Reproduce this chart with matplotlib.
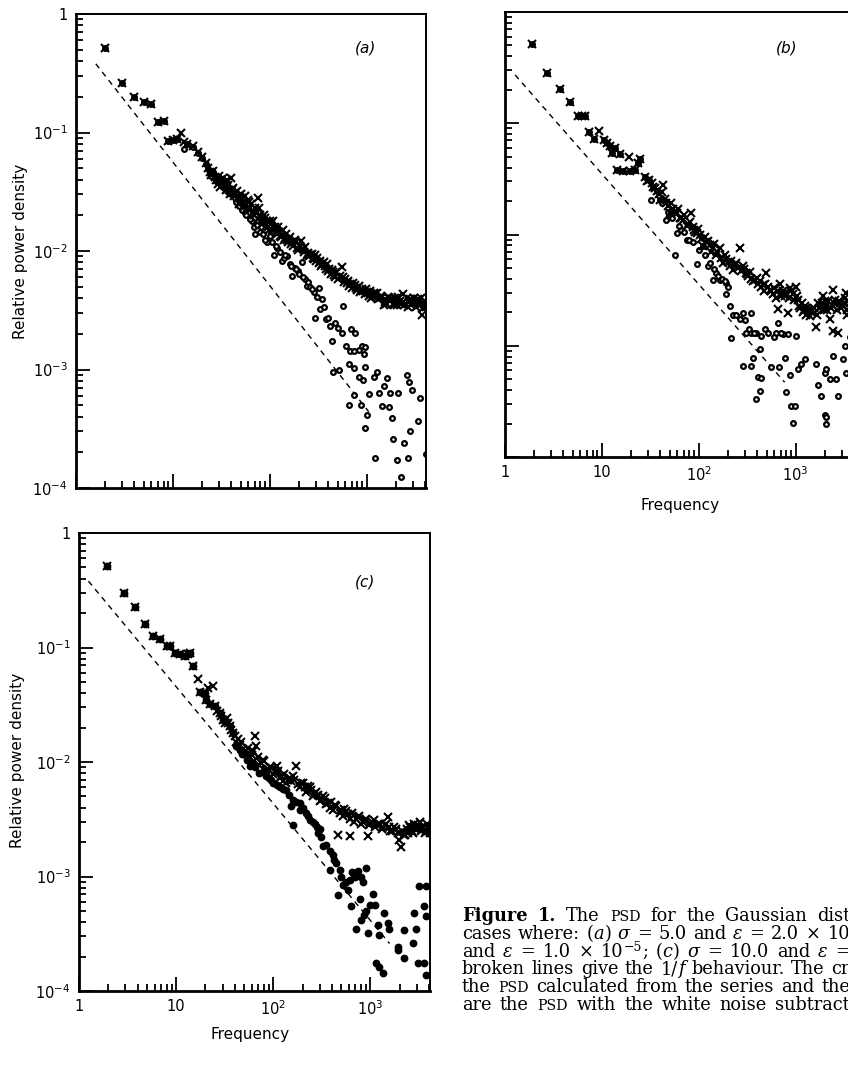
import matplotlib
matplotlib.use("Agg")
import matplotlib.pyplot as plt
from matplotlib.ticker import FixedLocator, LogLocator, NullFormatter, FixedFormatter

# ---------------- data ----------------
# panel (a): crosses = PSD of the series, circles = PSD with white noise subtracted
a_raw_f = [2, 3, 4, 5, 6, 7, 8, 9, 10, 11,
           12, 13, 14, 16, 18, 20, 22, 23, 24, 25,
           26, 27, 28, 30, 32, 34, 36, 38, 40, 42,
           44, 47, 50, 53, 56, 59, 62, 66, 70, 75,
           80, 85, 90, 95, 100, 106, 112, 118, 125, 132,
           140, 148, 156, 165, 175, 185, 195, 212, 225, 240,
           255, 270, 285, 300, 320, 340, 360, 380, 400, 425,
           450, 475, 500, 550, 580, 620, 660, 700, 750, 800,
           850, 900, 950, 1000, 1060, 1120, 1180, 1250, 1320, 1400,
           1500, 1560, 1650, 1750, 1850, 1950, 2050, 2200, 2350, 2500,
           2650, 2800, 3000, 3200, 3400, 3600, 3700, 3800, 4000]
a_raw_p = [0.514, 0.264, 0.200, 0.182, 0.175, 0.123, 0.125, 0.085, 0.087, 0.088,
           0.100, 0.083, 0.080, 0.077, 0.068, 0.062, 0.055, 0.050, 0.046, 0.044,
           0.047, 0.042, 0.040, 0.043, 0.038, 0.036, 0.040, 0.033, 0.041, 0.034,
           0.031, 0.028, 0.030, 0.026, 0.024, 0.027, 0.023, 0.021, 0.023, 0.028,
           0.020, 0.018, 0.019, 0.016, 0.018, 0.015, 0.016, 0.014, 0.0145, 0.013,
           0.0125, 0.014, 0.012, 0.0115, 0.011, 0.0118, 0.0102, 0.0121, 0.0098, 0.0093,
           0.0090, 0.0095, 0.0085, 0.0082, 0.0079, 0.0075, 0.0080, 0.0070, 0.0068, 0.0064,
           0.0067, 0.0060, 0.0058, 0.0073, 0.0055, 0.0054, 0.0051, 0.0049, 0.0052, 0.0047,
           0.0045, 0.0048, 0.0043, 0.0045, 0.0042, 0.0040, 0.0044, 0.0041, 0.0039, 0.0042,
           0.0035, 0.0037, 0.0041, 0.0038, 0.0036, 0.0040, 0.0035, 0.0038, 0.0043, 0.0036,
           0.0034, 0.0039, 0.0037, 0.0034, 0.0039, 0.0036, 0.0029, 0.0033, 0.0038]
a_raw2_f = [29, 31, 33, 35, 37, 39, 41, 43, 46, 48,
            52, 55, 58, 61, 64, 68, 72, 78, 83, 88,
            93, 98, 103, 109, 115, 122, 128, 136, 144, 152,
            160, 170, 180, 190, 205, 218, 232, 248, 262, 278,
            292, 310, 330, 350, 370, 390, 412, 437, 462, 488,
            525, 565, 600, 640, 680, 725, 775, 825, 875, 925,
            975, 1030, 1090, 1150, 1215, 1285, 1360, 1450, 1530, 1600,
            1700, 1800, 1900, 2000, 2120, 2270, 2420, 2580, 2720, 2900,
            3100, 3300, 3500, 3650, 3900, 4050]
a_raw2_p = [0.037, 0.035, 0.041, 0.033, 0.036, 0.030, 0.033, 0.029, 0.032, 0.025,
            0.028, 0.029, 0.023, 0.026, 0.025, 0.020, 0.021, 0.023, 0.017, 0.020,
            0.018, 0.015, 0.017, 0.018, 0.0145, 0.016, 0.0135, 0.015, 0.0128, 0.0125,
            0.0132, 0.0120, 0.0125, 0.0105, 0.011, 0.0104, 0.0108, 0.0096, 0.0092, 0.0088,
            0.0092, 0.0087, 0.0082, 0.0078, 0.0074, 0.0077, 0.0071, 0.0069, 0.0063, 0.0066,
            0.0062, 0.0060, 0.0058, 0.0056, 0.0053, 0.0054, 0.0049, 0.0051, 0.0047, 0.0046,
            0.0048, 0.0044, 0.0046, 0.0042, 0.0043, 0.0044, 0.0040, 0.0041, 0.0039, 0.0036,
            0.0040, 0.0039, 0.0035, 0.0038, 0.0041, 0.0036, 0.0035, 0.0040, 0.0037, 0.0035,
            0.0040, 0.0037, 0.0035, 0.0040, 0.0036, 0.0034]
a_sub_f = [2, 3, 4, 5, 6, 7, 8, 9, 10, 11,
           13, 14, 16, 18, 20, 22, 23, 24, 25, 26,
           27, 28, 30, 32, 34, 36, 38, 42, 44, 47,
           50, 53, 56, 59, 62, 66, 71, 76, 82, 94,
           100, 110, 120, 134, 150, 160, 170, 180, 195, 215,
           230, 243, 260, 284, 296, 320, 333, 346, 381, 422,
           440, 450, 476, 506, 514, 557, 570, 612, 652, 652,
           668, 695, 735, 735, 735, 764, 827, 827, 881, 896,
           910, 932, 953, 970, 970, 1016, 1066, 1180, 1230, 1277,
           1330, 1438, 1497, 1620, 1686, 1755, 1824, 1867, 2055, 2103,
           2278, 2444, 2604, 2648, 2710, 2774, 2931, 3357, 3573, 4086]
a_sub_p = [0.514, 0.264, 0.200, 0.182, 0.175, 0.123, 0.125, 0.085, 0.087, 0.088,
           0.072, 0.080, 0.076, 0.067, 0.061, 0.054, 0.049, 0.045, 0.043, 0.046,
           0.041, 0.039, 0.041, 0.036, 0.034, 0.037, 0.031, 0.031, 0.028, 0.025,
           0.026, 0.023, 0.021, 0.023, 0.019, 0.018, 0.014, 0.018, 0.016, 0.0119,
           0.0135, 0.0092, 0.0105, 0.0083, 0.009, 0.0078, 0.0062, 0.0072, 0.0068, 0.0081,
           0.0058, 0.0051, 0.0050, 0.0045, 0.00274, 0.0049, 0.00323, 0.0039, 0.00265, 0.00233,
           0.00174, 0.00096, 0.00249, 0.00226, 0.00099, 0.00205, 0.00345, 0.00157, 0.00112, 0.0005,
           0.00143, 0.00218, 0.00143, 0.00103, 0.00061, 0.00205, 0.00147, 0.00087, 0.0005, 0.00157,
           0.00082, 0.00134, 0.00032, 0.00155, 0.00105, 0.00041, 0.00062, 0.00086, 0.000179, 0.00095,
           0.00063, 0.00049, 0.00072, 0.00084, 0.00048, 0.00063, 0.00039, 0.00026, 0.000173, 0.00063,
           0.000125, 0.00024, 0.0009, 0.000179, 0.00079, 0.0003, 0.00067, 0.00037, 0.00057, 0.000195]
a_sub2_f = [40, 45, 48, 52, 57, 63, 68, 74, 79, 86,
            90, 105, 115, 126, 140, 145, 165, 188, 200, 222,
            250, 270, 305, 360, 400]
a_sub2_p = [0.030, 0.026, 0.024, 0.022, 0.020, 0.0185, 0.016, 0.0165, 0.0145, 0.014,
            0.0125, 0.012, 0.011, 0.0098, 0.0088, 0.0092, 0.0075, 0.0070, 0.0064, 0.0060,
            0.0055, 0.0048, 0.0041, 0.0034, 0.0027]
a_dash_f = [1.6, 1050]
a_dash_p = [0.38, 4.4e-4]

# panel (b)
b_raw_f = [1.88, 2.73, 3.69, 4.68, 5.7, 6.2, 6.7, 7.4, 8.3, 9.4,
           10.5, 11.2, 12.1, 12.6, 13.6, 14.2, 15.3, 16.6, 19.1, 19.4,
           21.9, 23.7, 24.6, 27.7, 31, 34, 37, 40, 43, 46,
           50, 54, 59, 64, 69, 75, 84, 90, 95, 102,
           111, 120, 135, 150, 164, 178, 193, 209, 226, 245,
           265, 286, 305, 323, 350, 378, 410, 440, 470, 499,
           540, 580, 630, 657, 684, 720, 770, 834, 867, 930,
           1016, 1060, 1120, 1180, 1240, 1290, 1390, 1480, 1630, 1700,
           1800, 1915, 2000, 2100, 2240, 2430, 2430, 2550, 2730, 2850,
           3080, 3200, 3300, 3350, 3500, 3700, 3900, 4050]
b_raw_p = [0.513, 0.282, 0.202, 0.154, 0.115, 0.115, 0.115, 0.083, 0.072, 0.086,
           0.071, 0.066, 0.062, 0.054, 0.060, 0.038, 0.053, 0.037, 0.050, 0.037,
           0.038, 0.044, 0.048, 0.033, 0.031, 0.027, 0.0245, 0.0206, 0.028, 0.019,
           0.0156, 0.017, 0.0156, 0.014, 0.0136, 0.012, 0.0156, 0.0110, 0.0103, 0.0098,
           0.0079, 0.0085, 0.0069, 0.0065, 0.0076, 0.0056, 0.0060, 0.0052, 0.0048, 0.0056,
           0.0076, 0.0052, 0.0045, 0.0042, 0.0040, 0.0039, 0.0036, 0.0034, 0.0031, 0.0045,
           0.0032, 0.0029, 0.0027, 0.00215, 0.0036, 0.0030, 0.0028, 0.00198, 0.0033, 0.0029,
           0.0034, 0.0026, 0.0022, 0.0020, 0.0023, 0.0019, 0.00185, 0.0021, 0.00146, 0.0024,
           0.0022, 0.0028, 0.0025, 0.0021, 0.00173, 0.0032, 0.00136, 0.0026, 0.00131, 0.0024,
           0.0023, 0.0027, 0.0030, 0.0019, 0.0025, 0.0022, 0.0026, 0.0023]
b_raw2_f = [29, 33, 35.5, 38.5, 42, 45, 48, 52, 56, 61,
            66, 71, 78, 81, 87, 92, 98, 106, 115, 125,
            130, 140, 145, 156, 170, 185, 200, 217, 235, 255,
            275, 295, 315, 335, 365, 395, 425, 455, 485, 520,
            560, 600, 650, 700, 745, 800, 850, 900, 960, 1040,
            1090, 1150, 1210, 1270, 1340, 1430, 1540, 1650, 1750, 1850,
            1960, 2050, 2170, 2320, 2500, 2650, 2800, 2950, 3150, 3400,
            3600, 3800, 4000]
b_raw2_p = [0.030, 0.029, 0.026, 0.023, 0.024, 0.021, 0.018, 0.019, 0.016, 0.017,
            0.014, 0.015, 0.0125, 0.013, 0.0118, 0.0105, 0.0112, 0.0092, 0.0095, 0.0088,
            0.0080, 0.0075, 0.0082, 0.0070, 0.0062, 0.0066, 0.0057, 0.0058, 0.0053, 0.0050,
            0.0047, 0.0049, 0.0044, 0.0046, 0.0038, 0.0041, 0.0038, 0.0035, 0.0036, 0.0034,
            0.0031, 0.0033, 0.0031, 0.0028, 0.0031, 0.0030, 0.0027, 0.0031, 0.0026, 0.0028,
            0.0023, 0.0024, 0.0021, 0.0022, 0.0021, 0.0020, 0.0022, 0.0019, 0.0022, 0.0024,
            0.0021, 0.0023, 0.0025, 0.0022, 0.0024, 0.0021, 0.0025, 0.0022, 0.0024, 0.0021,
            0.0024, 0.0022, 0.0026]
b_sub_f = [1.88, 2.73, 3.69, 4.68, 5.7, 6.2, 6.7, 7.4, 8.3, 10.5,
           11.2, 12.1, 12.6, 13.6, 14.2, 15.3, 16.6, 19.4, 21.9, 23.7,
           24.6, 27.7, 31, 32.5, 34, 37, 40, 46, 50, 57,
           59, 66, 75, 95, 111, 125, 141, 150, 164, 193,
           193, 209, 217, 226, 265, 286, 286, 310, 349, 349,
           349, 363, 387, 393, 409, 425, 425, 443, 443, 561,
           632, 657, 673, 740, 771, 801, 834, 867, 902, 939,
           977, 1016, 1057, 1143, 1238, 1630, 1700, 1840, 1990, 1990,
           2070, 2070, 2070, 2240, 2430, 2580, 2730, 3080, 3200, 3330,
           3600, 3800, 3900]
b_sub_p = [0.513, 0.282, 0.202, 0.154, 0.115, 0.115, 0.115, 0.083, 0.072, 0.071,
           0.066, 0.062, 0.054, 0.060, 0.038, 0.053, 0.037, 0.037, 0.038, 0.044,
           0.048, 0.033, 0.031, 0.0206, 0.027, 0.0245, 0.0206, 0.0136, 0.0150, 0.0065,
           0.0103, 0.011, 0.009, 0.0054, 0.0079, 0.0052, 0.0039, 0.0045, 0.0039, 0.0037,
           0.0029, 0.0023, 0.00118, 0.0019, 0.00173, 0.00198, 0.00066, 0.00131, 0.00131, 0.00198,
           0.00066, 0.00078, 0.00033, 0.00131, 0.00052, 0.00093, 0.00039, 0.00122, 0.00051, 0.00064,
           0.0013, 0.0016, 0.00064, 0.00127, 0.00078, 0.00038, 0.00127, 0.00055, 0.00029, 0.000202,
           0.00029, 0.00122, 0.00062, 0.00068, 0.00076, 0.00068, 0.00044, 0.00035, 0.00057, 0.00024,
           0.00062, 0.00023, 0.000198, 0.0005, 0.00081, 0.0005, 0.00035, 0.00076, 0.001, 0.00057,
           0.0012, 0.0007, 0.0004]
b_sub2_f = [42, 48, 53, 62, 70, 80, 88, 100, 116, 130,
            145, 158, 172, 185, 200, 240, 300, 330, 370, 480,
            520, 600, 700]
b_sub2_p = [0.0190, 0.0160, 0.0140, 0.0120, 0.0105, 0.0090, 0.0085, 0.0072, 0.0065, 0.0055,
            0.0049, 0.0042, 0.0040, 0.0038, 0.0034, 0.0019, 0.0017, 0.0014, 0.0013, 0.0014,
            0.0013, 0.0012, 0.0013]
b_dash_f = [1.27, 770]
b_dash_p = [0.272, 4.7e-4]

# panel (c)
c_raw_f = [1.92, 2.9, 3.79, 4.8, 5.8, 6.8, 7.96, 8.6, 9.7, 10.9,
           12.3, 13.3, 13.8, 15, 16.8, 17.5, 19.7, 20.5, 21.3, 22.2,
           24, 25, 28, 30, 33, 35.6, 38.5, 41.7, 45, 50.7,
           53, 57, 64, 67, 72, 78, 85, 92, 100, 108,
           116, 125, 136, 147, 159, 172, 186, 202, 218, 236,
           255, 277, 300, 324, 350, 379, 410, 444, 461, 481,
           520, 560, 608, 620, 680, 740, 800, 870, 940, 960,
           1040, 1120, 1200, 1300, 1400, 1507, 1600, 1750, 1900, 1986,
           2067, 2200, 2350, 2500, 2650, 2800, 3000, 3200, 3400, 3600,
           3800, 4000]
c_raw_p = [0.514, 0.297, 0.225, 0.162, 0.126, 0.119, 0.104, 0.103, 0.090, 0.087,
           0.085, 0.087, 0.090, 0.069, 0.053, 0.041, 0.040, 0.035, 0.044, 0.032,
           0.046, 0.0307, 0.0269, 0.0235, 0.024, 0.0205, 0.018, 0.0150, 0.0140, 0.0125,
           0.0118, 0.0110, 0.0168, 0.0137, 0.0095, 0.0105, 0.0085, 0.0090, 0.0078, 0.0092,
           0.0072, 0.0068, 0.0066, 0.0072, 0.0075, 0.0092, 0.0060, 0.0065, 0.0055, 0.0061,
           0.0050, 0.0055, 0.0046, 0.0050, 0.0043, 0.0040, 0.0038, 0.0041, 0.0023, 0.0036,
           0.0034, 0.0037, 0.00224, 0.0032, 0.0030, 0.0033, 0.0029, 0.0031, 0.00224, 0.0028,
           0.0030, 0.0027, 0.0029, 0.0026, 0.0028, 0.0033, 0.0025, 0.0027, 0.0024, 0.0021,
           0.0018, 0.0023, 0.0026, 0.0028, 0.0025, 0.0029, 0.0026, 0.0030, 0.0027, 0.0024,
           0.0029, 0.0026]
c_raw2_f = [26.5, 29, 31.5, 34, 37, 40, 43, 47, 49, 55,
            60, 62, 70, 75, 81, 88, 96, 104, 112, 120,
            130, 141, 153, 165, 179, 194, 210, 227, 245, 265,
            288, 312, 337, 365, 395, 427, 500, 540, 585, 650,
            710, 770, 835, 905, 1000, 1080, 1160, 1250, 1350, 1450,
            1550, 1680, 1820, 1950, 2130, 2280, 2420, 2580, 2730, 2900,
            3100, 3300, 3500, 3700, 3900, 4050]
c_raw2_p = [0.028, 0.025, 0.022, 0.022, 0.019, 0.017, 0.016, 0.0150, 0.013, 0.0132,
            0.0115, 0.0125, 0.0110, 0.0098, 0.0102, 0.0086, 0.0088, 0.0082, 0.0084, 0.0076,
            0.0079, 0.0070, 0.0068, 0.0070, 0.0064, 0.0066, 0.0060, 0.0062, 0.0057, 0.0053,
            0.0051, 0.0047, 0.0048, 0.0044, 0.0045, 0.0042, 0.0038, 0.0039, 0.0035, 0.0036,
            0.0032, 0.0034, 0.0030, 0.0032, 0.0029, 0.0031, 0.0028, 0.0029, 0.0027, 0.0029,
            0.0027, 0.0025, 0.0026, 0.0024, 0.0025, 0.0023, 0.0024, 0.0027, 0.0024, 0.0026,
            0.0028, 0.0025, 0.0027, 0.0025, 0.0027, 0.0024]
c_sub_f = [1.92, 2.9, 3.79, 4.8, 5.8, 6.8, 7.96, 8.6, 9.7, 10.9,
           12.3, 13.3, 13.8, 15, 17.5, 19.7, 20.5, 22.2, 25, 28,
           30, 35.6, 38.5, 41.7, 45, 50.7, 53, 57, 72, 85,
           95, 116, 136, 153, 159, 159, 186, 186, 218, 236,
           266, 288, 299, 324, 379, 379, 410, 444, 461, 481,
           520, 585, 608, 633, 658, 713, 741, 771, 802, 802,
           834, 867, 902, 902, 940, 977, 1057, 1100, 1143, 1190,
           1237, 1237, 1340, 1393, 1507, 1567, 1910, 1910, 2235, 2235,
           2722, 2830, 2945, 3063, 3185, 3590, 3590, 3730, 3730, 3730]
c_sub_p = [0.514, 0.297, 0.225, 0.162, 0.126, 0.119, 0.104, 0.103, 0.090, 0.087,
           0.085, 0.087, 0.090, 0.069, 0.041, 0.040, 0.035, 0.032, 0.0307, 0.0269,
           0.0235, 0.0205, 0.018, 0.0137, 0.0128, 0.0120, 0.0105, 0.0092, 0.008, 0.0075,
           0.0070, 0.0061, 0.0057, 0.0041, 0.0047, 0.0028, 0.0044, 0.0038, 0.0036, 0.0031,
           0.0029, 0.0024, 0.0026, 0.00183, 0.00166, 0.00114, 0.00155, 0.00131, 0.00069, 0.00114,
           0.00085, 0.00076, 0.00094, 0.00055, 0.00107, 0.00035, 0.00111, 0.00063, 0.001, 0.00042,
           0.0009, 0.00046, 0.00118, 0.0005, 0.00032, 0.00056, 0.00071, 0.00056, 0.000175, 0.00038,
           0.00031, 0.000163, 0.000143, 0.00048, 0.00039, 0.00035, 0.000244, 0.000229, 0.00034, 0.000193,
           0.00026, 0.00048, 0.00035, 0.000175, 0.00082, 0.00055, 0.000175, 0.00082, 0.00045, 0.000138]
c_sub2_f = [43, 48, 60, 65, 78, 90, 100, 108, 125, 145,
            170, 200, 230, 255, 280, 310, 345, 420, 500, 560,
            640, 700]
c_sub2_p = [0.0135, 0.0118, 0.0098, 0.0090, 0.0081, 0.0072, 0.0066, 0.0063, 0.0058, 0.0052,
            0.0045, 0.0040, 0.0034, 0.0030, 0.0027, 0.0022, 0.0019, 0.0014, 0.0010, 0.0009,
            0.0011, 0.0010]
c_dash_f = [1.25, 1570]
c_dash_p = [0.38, 2.6e-4]

x_ticks = [1, 10, 100, 1000]
x_ticklabels = ["1", "10", "$10^2$", "$10^3$"]
y_ticks = [1e-4, 1e-3, 1e-2, 1e-1, 1]
y_ticklabels = ["$10^{-4}$", "$10^{-3}$", "$10^{-2}$", "$10^{-1}$", "1"]

# ---------------- figure ----------------
W, H = 848, 1067
fig = plt.figure(figsize=(W / 100, H / 100), dpi=100)
fig.patch.set_facecolor("white")
SANS = "DejaVu Sans"


def add_axes_px(left, top, right, bottom):
    return fig.add_axes([left / W, 1 - bottom / H, (right - left) / W, (bottom - top) / H])


def style(ax, show_x, show_y):
    ax.set_xscale("log")
    ax.set_yscale("log")
    ax.set_xlim(1, 4096)
    ax.set_ylim(1e-4, 1)
    ax.xaxis.set_major_locator(FixedLocator(x_ticks))
    ax.yaxis.set_major_locator(FixedLocator(y_ticks))
    ax.xaxis.set_minor_locator(LogLocator(base=10, subs=range(2, 10), numticks=30))
    ax.yaxis.set_minor_locator(LogLocator(base=10, subs=range(2, 10), numticks=30))
    ax.xaxis.set_minor_formatter(NullFormatter())
    ax.yaxis.set_minor_formatter(NullFormatter())
    if show_x:
        ax.xaxis.set_major_formatter(FixedFormatter(x_ticklabels))
    else:
        ax.xaxis.set_major_formatter(NullFormatter())
    if show_y:
        ax.yaxis.set_major_formatter(FixedFormatter(y_ticklabels))
    else:
        ax.yaxis.set_major_formatter(NullFormatter())
    ax.tick_params(which="both", direction="in", top=False, right=False,
                   width=1.3, color="black", labelsize=10.5, pad=6)
    ax.tick_params(which="major", length=10)
    ax.tick_params(which="minor", length=5)
    for lab in ax.get_xticklabels() + ax.get_yticklabels():
        lab.set_family(SANS)
    for side in ["top", "right"]:
        ax.spines[side].set_linewidth(1.4)
    for side in ["left", "bottom"]:
        ax.spines[side].set_linewidth(2.0)


def draw_panel(ax, raw, raw2, sub, sub2, dash, filled):
    ax.plot(dash[0], dash[1], color="black", lw=1.0, linestyle=(0, (4, 3.5)))
    for f, p in (sub, sub2):
        if filled:
            ax.plot(f, p, linestyle="none", marker="o", ms=4.6, mew=1.0,
                    mec="black", mfc="black")
        else:
            ax.plot(f, p, linestyle="none", marker="o", ms=3.4, mew=1.6,
                    mec="black", mfc="white")
    for f, p in (raw, raw2):
        ax.plot(f, p, linestyle="none", marker="x", ms=5.2, mew=1.5, color="black")


# panel (a)
ax_a = add_axes_px(76, 14, 426, 488)
style(ax_a, show_x=False, show_y=True)
draw_panel(ax_a, (a_raw_f, a_raw_p), (a_raw2_f, a_raw2_p), (a_sub_f, a_sub_p),
           (a_sub2_f, a_sub2_p), (a_dash_f, a_dash_p), False)
ax_a.text(0.828, 0.928, "(a)", transform=ax_a.transAxes, fontsize=11,
          fontstyle="italic", family=SANS, ha="center", va="center")
ax_a.text(-0.158, 0.50, "Relative power density", transform=ax_a.transAxes,
          rotation=90, fontsize=11, family=SANS, ha="center", va="center")

# panel (b)
ax_b = add_axes_px(505, 12, 855, 457)
style(ax_b, show_x=True, show_y=False)
draw_panel(ax_b, (b_raw_f, b_raw_p), (b_raw2_f, b_raw2_p), (b_sub_f, b_sub_p),
           (b_sub2_f, b_sub2_p), (b_dash_f, b_dash_p), False)
ax_b.text(0.806, 0.92, "(b)", transform=ax_b.transAxes, fontsize=11,
          fontstyle="italic", family=SANS, ha="center", va="center")
ax_b.text(0.50, -0.108, "Frequency", transform=ax_b.transAxes,
          fontsize=11, family=SANS, ha="center", va="center")

# panel (c)
ax_c = add_axes_px(79, 533, 430, 991)
style(ax_c, show_x=True, show_y=True)
draw_panel(ax_c, (c_raw_f, c_raw_p), (c_raw2_f, c_raw2_p), (c_sub_f, c_sub_p),
           (c_sub2_f, c_sub2_p), (c_dash_f, c_dash_p), True)
ax_c.text(0.815, 0.893, "(c)", transform=ax_c.transAxes, fontsize=11,
          fontstyle="italic", family=SANS, ha="center", va="center")
ax_c.text(-0.175, 0.504, "Relative power density", transform=ax_c.transAxes,
          rotation=90, fontsize=11, family=SANS, ha="center", va="center")
ax_c.text(0.487, -0.094, "Frequency", transform=ax_c.transAxes,
          fontsize=11, family=SANS, ha="center", va="center")

# ---------------- caption (justified, cut by the right edge as in the reference) ----
SERIF = "DejaVu Serif"
renderer = fig.canvas.get_renderer()
BASE = 12.8
SMALL = 10.2
IT = "italic"


def seg(s, size=BASE, weight="normal", sty="normal", rise=0):
    return (s, size, weight, sty, rise)


def measure(s, size, weight, sty):
    t = fig.text(0, 0, s, fontsize=size, fontweight=weight, fontstyle=sty, family=SERIF)
    w = t.get_window_extent(renderer).width
    t.remove()
    return w


def draw_justified(x0, x1, y_base, segs):
    words_w = 0.0
    n_sp = 0
    for s, size, weight, sty, rise in segs:
        pieces = s.split(" ")
        n_sp += len(pieces) - 1
        for p in pieces:
            if p:
                words_w += measure(p, size, weight, sty)
    sp = (x1 - x0 - words_w) / max(n_sp, 1)
    x = x0
    for s, size, weight, sty, rise in segs:
        pieces = s.split(" ")
        for j, p in enumerate(pieces):
            if j > 0:
                x += sp
            if p:
                t = fig.text(x / W, 1 - (y_base - rise) / H, p, fontsize=size,
                             fontweight=weight, fontstyle=sty, family=SERIF,
                             ha="left", va="baseline")
                x += t.get_window_extent(renderer).width


caption_lines = [
    [seg("Figure 1.", weight="bold"), seg(" The "), seg("PSD", SMALL), seg(" for the Gaussian dist")],
    [seg("cases where: ("), seg("a", sty=IT), seg(") "), seg("\u03c3", sty=IT),
     seg(" = 5.0 and "), seg("\u03b5", sty=IT), seg(" = 2.0 \u00d7 10")],
    [seg("and "), seg("\u03b5", sty=IT), seg(" = 1.0 \u00d7 10"),
     seg("\u22125", 9, rise=6), seg("; ("), seg("c", sty=IT), seg(") "),
     seg("\u03c3", sty=IT), seg(" = 10.0 and "), seg("\u03b5", sty=IT), seg(" =")],
    [seg("broken lines give the 1/"), seg("f", sty=IT), seg(" behaviour. The cr")],
    [seg("the "), seg("PSD", SMALL), seg(" calculated from the series and the")],
    [seg("are the "), seg("PSD", SMALL), seg(" with the white noise subtract")],
]

y0 = 921
for i, segs in enumerate(caption_lines):
    draw_justified(462, 850, y0 + i * 17.8, segs)

fig.savefig("out.png", dpi=100, facecolor="white")
